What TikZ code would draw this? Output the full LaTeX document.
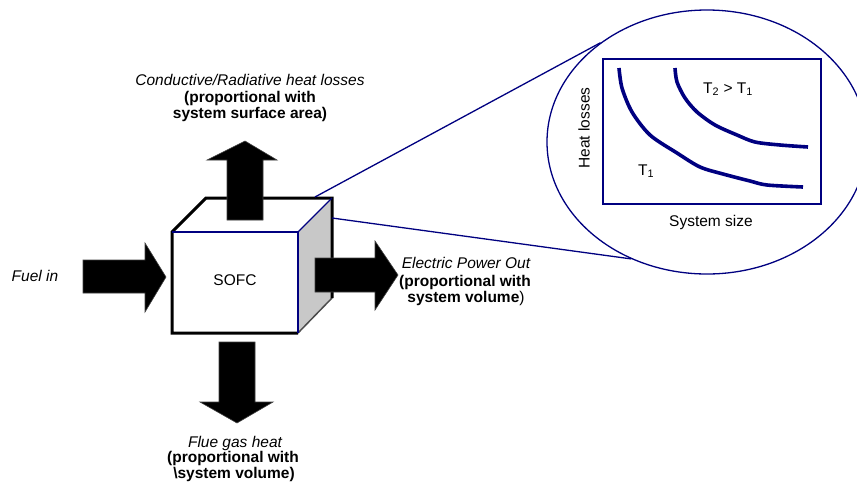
\documentclass[tikz,border=0pt]{standalone}
\usepackage{fontspec}
\setmainfont{Liberation Sans}
\usetikzlibrary{shapes.geometric,positioning}
\definecolor{navy}{RGB}{0,0,128}
\definecolor{sidegray}{RGB}{200,200,200}

\begin{document}
\begin{tikzpicture}[%
x=1pt, y=-1pt,
lbl/.style={font=\fontsize{15.5}{16.5}\selectfont, inner sep=0pt, anchor=base},
blockarrow/.style={fill=black, draw=black!75, line width=0.6pt},
zoomline/.style={draw=navy, line width=1.3pt},
curve/.style={draw=navy, line width=3.6pt, line join=round}
]
\useasboundingbox (0,0) rectangle (857,483);
\clip (0,0) rectangle (857,483);

% the cube
\fill[white] (172,232) -- (206,198) -- (332,198) -- (298,232) -- cycle;
\fill[white] (172,232) rectangle (298,333);
\fill[sidegray] (298,232) -- (332,198) -- (332,298) -- (298,333) -- cycle;
\draw[black!70, line width=1.5pt] (298,333) -- (332,298);
\draw[black, line width=3pt, line join=miter]
  (298,333) -- (172,333) -- (172,232) -- (206,198) -- (332,198) -- (332,298);
\draw[navy, line width=1.2pt] (172,232) -- (298,232) -- (298,333);
\draw[navy, line width=1.2pt] (298,232) -- (332,198);
\node[lbl] (sofc) at (235,285) {SOFC};
\coordinate (cubetop) at (315,197);
\coordinate (cubeside) at (332,218);

% flows
\filldraw[blockarrow] (227,220) -- (227,160) -- (207,160) -- (245,141)
  -- (277,160) -- (263,160) -- (263,220) -- cycle;
\filldraw[blockarrow] (219,342) -- (219,402) -- (200,402) -- (237,423)
  -- (273,402) -- (255,402) -- (255,342) -- cycle;
\filldraw[blockarrow] (83,260) -- (145,260) -- (145,243) -- (166,277)
  -- (145,312) -- (145,293) -- (83,293) -- cycle;
\filldraw[blockarrow] (315,258) -- (375,258) -- (375,241) -- (398,275)
  -- (375,310) -- (375,292) -- (315,292) -- cycle;

% labels
\node[lbl] (loss1) at (250,85) {\itshape Conductive/Radiative heat losses};
\node[lbl] (loss2) at (250,102) {\bfseries (proportional with};
\node[lbl] (loss3) at (250,118) {\bfseries system surface area)};
\node[lbl] (fuel) at (35,281) {\itshape Fuel in};
\node[lbl] (power1) at (466,268) {\itshape Electric Power Out};
\node[lbl] (power2) at (465,286) {\bfseries (proportional with};
\node[lbl] (power3) at (466,302) {\textbf{system volume})};
\node[lbl] (flue1) at (235,447) {\itshape Flue gas heat};
\node[lbl] (flue2) at (233,462) {\bfseries (proportional with};
\node[lbl] (flue3) at (234,478) {\bfseries \textbackslash system volume)};

% zoomed view
\node[ellipse, draw=navy, line width=1.3pt, inner sep=0pt,
  minimum width=320pt, minimum height=264pt] (zoom) at (707,142) {};
\draw[zoomline] (cubetop) -- (zoom.137.5);
\draw[zoomline] (cubeside) -- (zoom.237.3);

\draw[navy, line width=1.3pt] (603,59) rectangle (821,204);
\draw[curve] plot[smooth, tension=0.5] coordinates {(619,68) (622,88) (632,112)
  (650,135) (677,153) (700,167) (723,174) (750,181) (767,185) (803,187)};
\draw[curve] plot[smooth, tension=0.5] coordinates {(675,68) (677,82) (685,98)
  (697,112) (715,125) (737,135) (755,142) (780,145) (808,147)};
\node[lbl, anchor=base west] (t2) at (703,93) {T\textsubscript{2} > T\textsubscript{1}};
\node[lbl, anchor=base west] (t1) at (638,175) {T\textsubscript{1}};
\node[lbl, anchor=center, rotate=90] (ylab) at (584,128) {Heat losses};
\node[lbl] (xlab) at (711,226) {System size};
\end{tikzpicture}
\end{document}
